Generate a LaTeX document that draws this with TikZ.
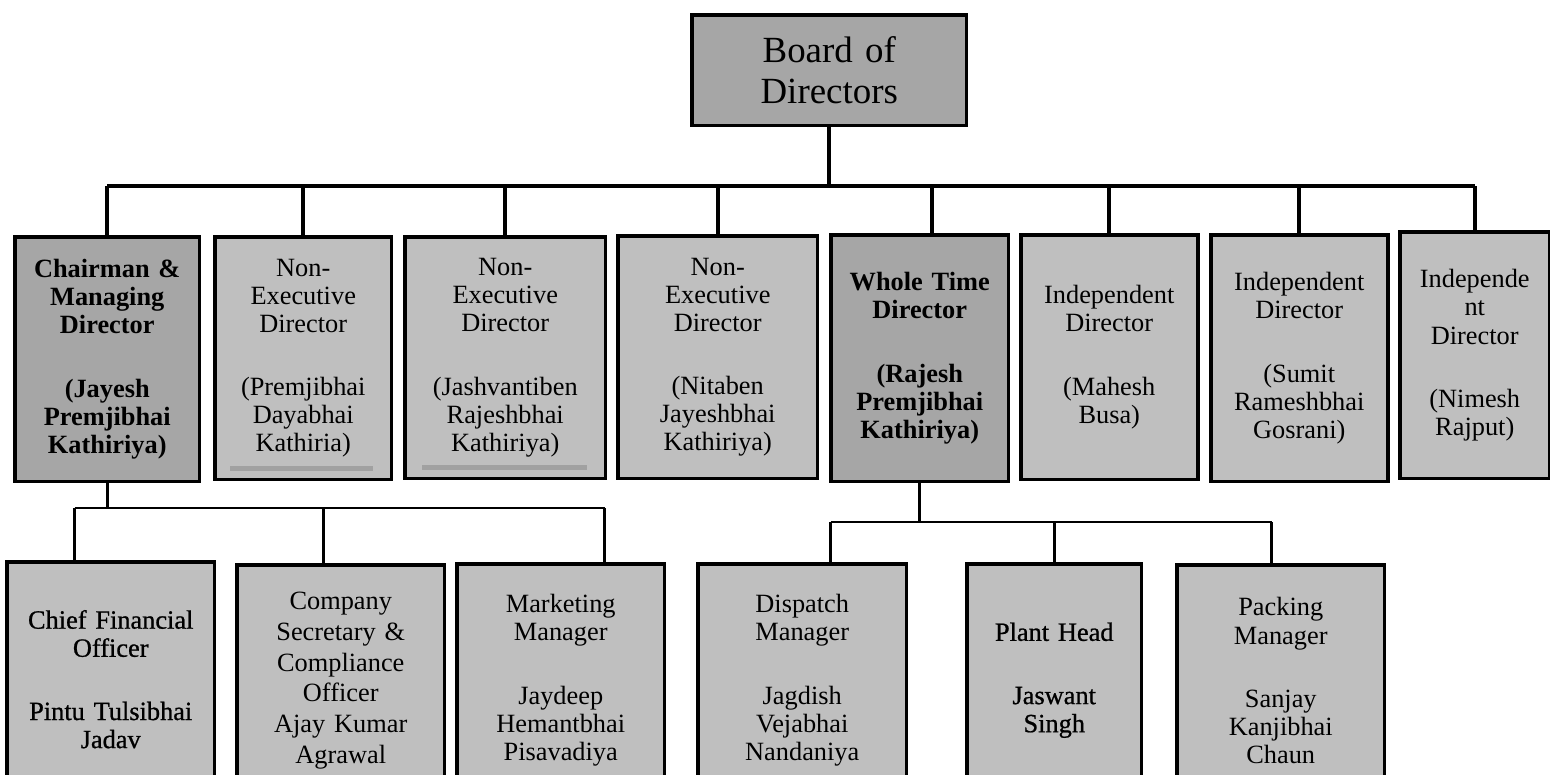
\documentclass[tikz,border=0pt]{standalone}
\usepackage{fontspec}
\setmainfont{Liberation Serif}
\newfontfamily\semiserif[FakeBold=0.8]{Liberation Serif}
\usepackage{tikz}
\usetikzlibrary{calc}
\definecolor{leadgray}{rgb}{0.65,0.65,0.65}
\definecolor{boxgray}{rgb}{0.75,0.75,0.75}
\definecolor{rulegray}{rgb}{0.63,0.63,0.63}

\tikzset{
	dirbox/.style={draw, line width=2pt, fill=boxgray, anchor=north west, align=center, inner sep=0pt, font=\fontsize{15}{16}\selectfont},
	leadbox/.style={dirbox, fill=leadgray, font=\bfseries\fontsize{15}{16}\selectfont},
	link/.style={line width=2.2pt},
	sublink/.style={line width=1.6pt}
}

\begin{document}
\begin{tikzpicture}[x=0.02cm, y=-0.02cm]
	\useasboundingbox (0,0) rectangle (1550,774);
	\clip (0,0) rectangle (1550,774);
	
	\node(board) [dirbox, fill=leadgray, text width=5cm, minimum width=5.5cm, minimum height=2.22cm, font=\fontsize{21}{23}\selectfont] at (690,13) {Board of\\Directors};
	
	%----------------------------------------------------------------
	\node(chair) [leadbox, text width=3.5cm, minimum width=3.7cm, minimum height=4.9cm] at (13,235) {Chairman \&\\Managing\\Director\\[20pt](Jayesh\\Premjibhai\\Kathiriya)};
	\node(ned1) [dirbox, text width=3.4cm, minimum width=3.54cm, minimum height=4.86cm] at (213,235) {Non-\\Executive\\Director\\[20pt](Premjibhai\\Dayabhai\\Kathiria)};
	\node(ned2) [dirbox, text width=3.8cm, minimum width=4.02cm, minimum height=4.84cm] at (403,235) {Non-\\Executive\\Director\\[20pt](Jashvantiben\\Rajeshbhai\\Kathiriya)};
	\node(ned3) [dirbox, text width=3.8cm, minimum width=4cm, minimum height=4.86cm] at (616,234) {Non-\\Executive\\Director\\[20pt](Nitaben\\Jayeshbhai\\Kathiriya)};
	\node(wtd) [leadbox, text width=3.4cm, minimum width=3.56cm, minimum height=4.94cm] at (829,233) {Whole Time\\Director\\[20pt](Rajesh\\Premjibhai\\Kathiriya)};
	\node(ind1) [dirbox, text width=3.4cm, minimum width=3.54cm, minimum height=4.9cm] at (1019,233) {Independent\\Director\\[20pt](Mahesh\\Busa)};
	\node(ind2) [dirbox, text width=3.4cm, minimum width=3.54cm, minimum height=4.94cm] at (1209,233) {Independent\\Director\\[20pt](Sumit\\Rameshbhai\\Gosrani)};
	\node(ind3) [dirbox, text width=2.9cm, minimum width=3cm, minimum height=4.94cm] at (1398,230) {Independe\\nt\\Director\\[20pt](Nimesh\\Rajput)};
	
	% grey rules under two of the names
	\draw [rulegray, line width=2.6pt] ($(ned1.south west)+(17,-13)$) -- ++(143,0);
	\draw [rulegray, line width=2.6pt] ($(ned2.south west)+(19,-13)$) -- ++(165,0);
	
	%----------------------------------------------------------------
	\node(cfo) [dirbox, font=\semiserif\fontsize{15}{16}\selectfont, text width=4cm, minimum width=4.16cm, minimum height=4.7cm] at (5,560) {Chief Financial\\Officer\\[20pt]Pintu Tulsibhai\\Jadav};
	\node(cs) [dirbox, font=\fontsize{15}{17.5}\selectfont, text width=4cm, minimum width=4.16cm, minimum height=4.64cm] at (235,563) {Company\\Secretary \&\\Compliance\\Officer\\Ajay Kumar\\Agrawal};
	\node(mkt) [dirbox, text width=4cm, minimum width=4.16cm, minimum height=4.66cm] at (455,562) {Marketing\\Manager\\[20pt]Jaydeep\\Hemantbhai\\Pisavadiya};
	\node(disp) [dirbox, text width=4cm, minimum width=4.18cm, minimum height=4.66cm] at (696,562) {Dispatch\\Manager\\[20pt]Jagdish\\Vejabhai\\Nandaniya};
	\node(plant) [dirbox, font=\semiserif\fontsize{15}{16}\selectfont, text width=3.3cm, minimum width=3.5cm, minimum height=4.66cm] at (965,562) {Plant Head\\[20pt]Jaswant\\Singh};
	\node(pack) [dirbox, text width=4cm, minimum width=4.16cm, minimum height=4.64cm] at (1175,563) {Packing\\Manager\\[20pt]Sanjay\\Kanjibhai\\Chaun};
	
	%----------------------------------------------------------------
	\coordinate (topbus) at (0,186);
	\coordinate (wtdtop) at ([xshift=0.24cm]wtd.north);
	\draw [link] (board.south) -- (board.south |- topbus);
	\draw [link] (chair.north |- topbus) -- (ind3.north |- topbus);
	\foreach \d in {chair, ned1, ned2, ned3, ind1, ind2, ind3}
		\draw [link] (\d.north |- topbus) -- (\d.north);
	\draw [link] (wtdtop |- topbus) -- (wtdtop);
	
	%----------------------------------------------------------------
	\coordinate (leftbus) at (0,508);
	\coordinate (cfotop) at ([xshift=-0.72cm]cfo.north);
	\coordinate (cstop) at ([xshift=-0.34cm]cs.north);
	\coordinate (mkttop) at ([xshift=0.88cm]mkt.north);
	\draw [sublink] (chair.south) -- (chair.south |- leftbus);
	\draw [sublink] (cfotop |- leftbus) -- (mkttop |- leftbus);
	\foreach \t in {cfotop, cstop, mkttop}
		\draw [sublink] (\t |- leftbus) -- (\t);
	
	%----------------------------------------------------------------
	\coordinate (rightbus) at (0,522);
	\coordinate (disptop) at ([xshift=0.57cm]disp.north);
	\coordinate (packtop) at ([xshift=-0.18cm]pack.north);
	\draw [sublink] (wtd.south) -- (wtd.south |- rightbus);
	\draw [sublink] (disptop |- rightbus) -- (packtop |- rightbus);
	\foreach \t in {disptop, plant.north, packtop}
		\draw [sublink] (\t |- rightbus) -- (\t);
	
\end{tikzpicture}
\end{document}
